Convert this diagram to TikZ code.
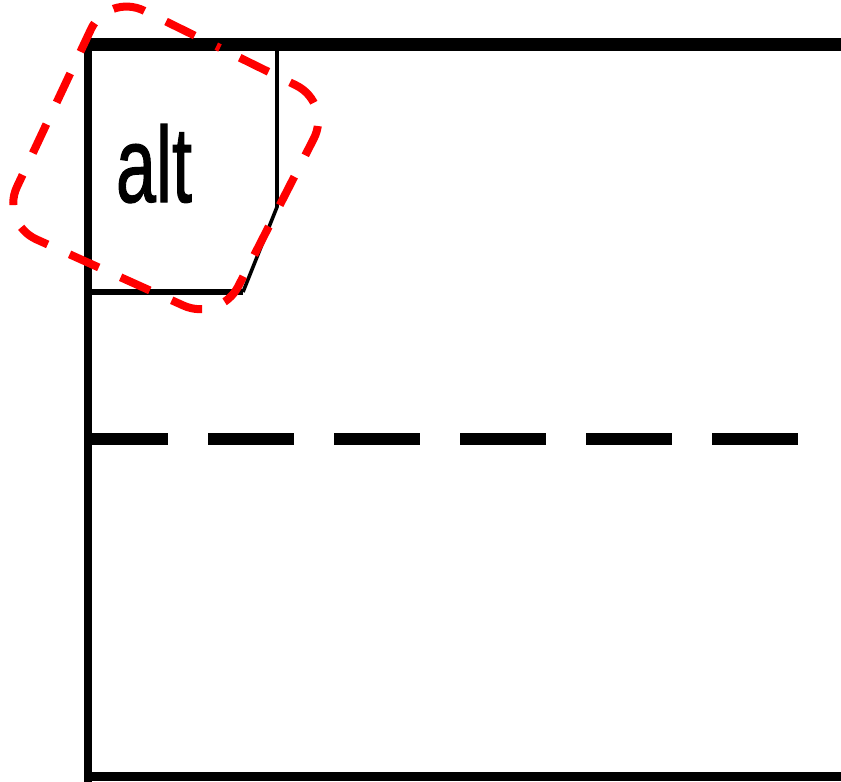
\documentclass[tikz,border=0pt]{standalone}
\usepackage{fontspec}
\setmainfont{Liberation Sans}
\newfontfamily\tagfont[FakeBold=1.2]{Liberation Sans}
\usepackage{graphicx}
\begin{document}
\begin{tikzpicture}[x=0.5pt,y=-0.5pt,
  frameedge/.style={draw=black, line width=#1},
  tagedge/.style={draw=black, line width=#1},
  guardline/.style={draw=black, line width=6pt, dash pattern=on 43pt off 20pt, dash phase=1.5pt},
  highlight/.style={draw=red, line width=4pt, dash pattern=on 16pt off 12pt, dash phase=17pt, rounded corners=20pt},
  optag/.style={inner sep=0pt, anchor=base}]
  \useasboundingbox (0,0) rectangle (841,782);
  \clip (0,0) rectangle (841,782);

  % combined fragment frame (right side runs off the page)
  \coordinate (ftl) at (88,44);
  \coordinate (ftr) at (860,44);
  \coordinate (fbl) at (88,776.5);
  \coordinate (fbr) at (860,776.5);
  \draw[frameedge=6.5pt] ([xshift=-2pt]ftl) -- (ftr);
  \draw[frameedge=4pt] ([yshift=3pt]ftl) -- ([yshift=-2.5pt]fbl);
  \draw[frameedge=4.5pt] ([xshift=-2pt]fbl) -- (fbr);

  % operator tag in the upper left corner
  \coordinate (tagtop) at (277,47);
  \coordinate (tagbend) at (277,207);
  \coordinate (tagfoot) at (243,292);
  \coordinate (tagleft) at (88,292);
  \draw[tagedge=1.8pt] (tagtop) -- (tagbend) -- (tagfoot);
  \draw[tagedge=2.6pt] (tagfoot) -- (tagleft);
  \node[optag] (op) at (154,202) {\scalebox{0.67}[1]{\tagfont\fontsize{53.8}{60}\selectfont alt}};

  % operand separator
  \coordinate (sepl) at (85,439);
  \coordinate (sepr) at (805,439);
  \draw[guardline] (sepl) -- (sepr);

  % highlight around the operator tag
  \coordinate (hA) at (108,-7);
  \coordinate (hB) at (332,103);
  \coordinate (hC) at (220,322);
  \coordinate (hD) at (0,223);
  \coordinate (hS) at (220,48);
  \draw[highlight] (hS) -- (hB) -- (hC) -- (hD) -- (hA) -- (hS);
\end{tikzpicture}
\end{document}
